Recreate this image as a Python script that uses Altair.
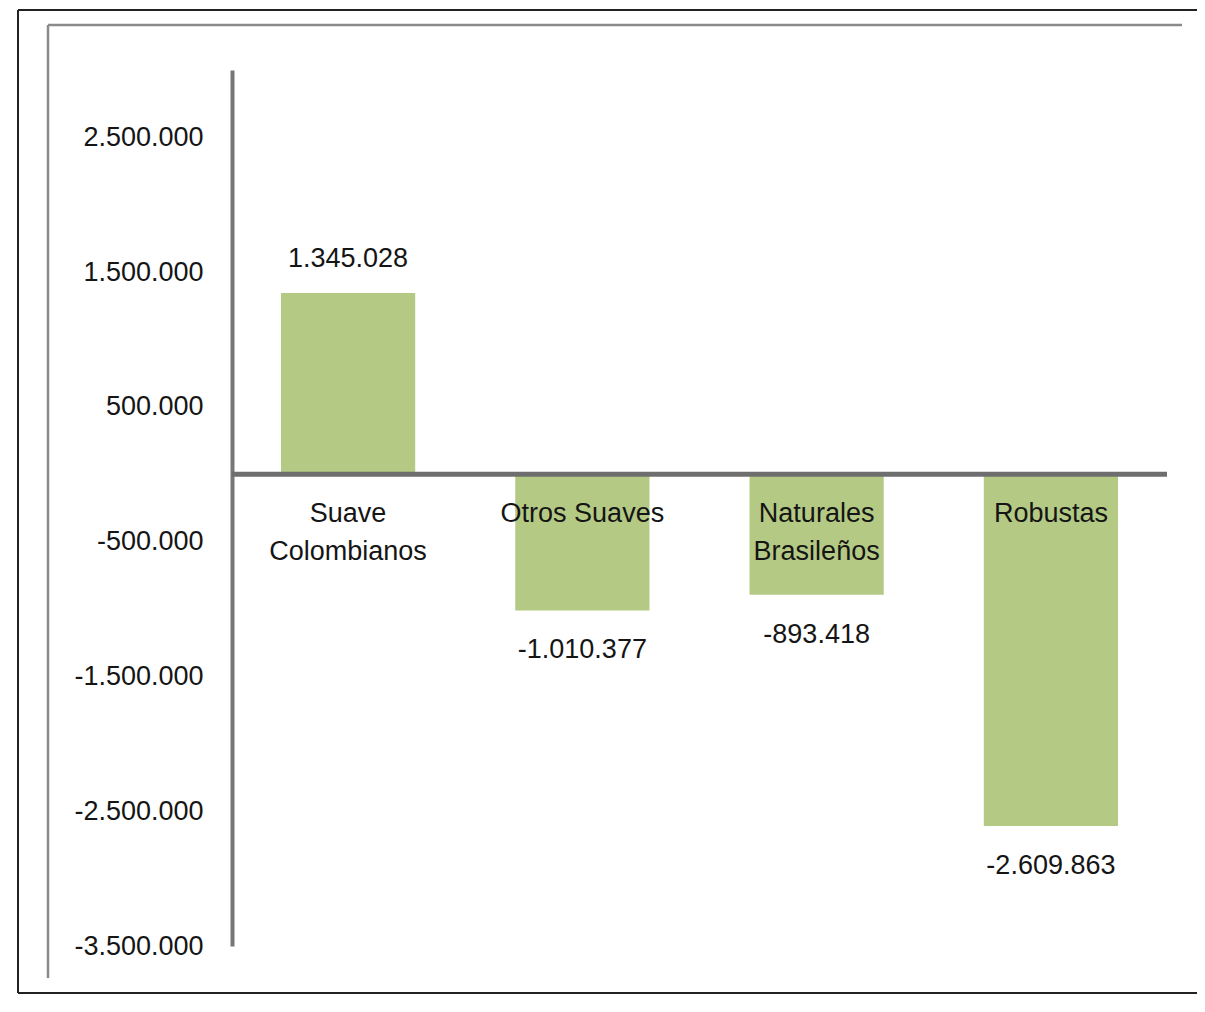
import altair as alt
import pandas as pd

categories = ["Suave Colombianos", "Otros Suaves", "Naturales Brasileños", "Robustas"]
category_lines = ["Suave\nColombianos", "Otros Suaves", "Naturales\nBrasileños", "Robustas"]
values = [1345028, -1010377, -893418, -2609863]
y_ticks = [2500000, 1500000, 500000, -500000, -1500000, -2500000, -3500000]

df = pd.DataFrame({"cat": categories, "label": category_lines, "value": values})
frame_df = pd.DataFrame({"k": [0]})

W, H = 935, 876
FONT = "Liberation Sans"
TXT = "#151515"
FS = 27

x = alt.X("cat:N", sort=categories, axis=None,
          scale=alt.Scale(paddingInner=0.427, paddingOuter=0.209))
yscale = alt.Scale(domain=[-3500000, 3000000], nice=False, zero=False)

base = alt.Chart(df)

bars = base.mark_bar(color="#b4ca84").encode(
    x=x,
    y=alt.Y("value:Q", scale=yscale, title=None,
            axis=alt.Axis(values=y_ticks, format=",.0f", ticks=False, grid=False,
                          labelFont=FONT, labelFontSize=FS, labelColor=TXT,
                          labelPadding=29, domainColor="#777777", domainWidth=4)),
    y2=alt.Y2(datum=0),
)

zero = alt.Chart(frame_df).mark_rule(color="#6e6e6e", strokeWidth=5).encode(
    y=alt.datum(0), x=alt.value(0), x2=alt.value(W)
)

cat_text = base.mark_text(baseline="top", dy=27, fontSize=FS, lineHeight=38,
                          lineBreak="\n", font=FONT, color=TXT).encode(
    x=x, y=alt.datum(0), text="label:N"
)

pos_text = base.transform_filter("datum.value > 0").mark_text(
    baseline="middle", dy=-34, fontSize=FS, font=FONT, color=TXT).encode(
    x=x, y="value:Q", text=alt.Text("value:Q", format=",.0f")
)
neg_text = base.transform_filter("datum.value < 0").mark_text(
    baseline="middle", dy=40, fontSize=FS, font=FONT, color=TXT).encode(
    x=x, y="value:Q", text=alt.Text("value:Q", format=",.0f")
)

fb = alt.Chart(frame_df)
outer_col = "#222222"
inner_col = "#8a8a8a"
frame_layers = [
    fb.mark_rule(color=outer_col, strokeWidth=2).encode(x=alt.value(-214), y=alt.value(-60), y2=alt.value(923)),
    fb.mark_rule(color=outer_col, strokeWidth=2).encode(x=alt.value(-214), x2=alt.value(990), y=alt.value(-60)),
    fb.mark_rule(color=outer_col, strokeWidth=2).encode(x=alt.value(-214), x2=alt.value(990), y=alt.value(923)),
    fb.mark_rule(color=inner_col, strokeWidth=2.5).encode(x=alt.value(-184), y=alt.value(-45), y2=alt.value(908)),
    fb.mark_rule(color=inner_col, strokeWidth=2.5).encode(x=alt.value(-184), x2=alt.value(950), y=alt.value(-45)),
]

chart = alt.layer(bars, zero, cat_text, pos_text, neg_text, *frame_layers).properties(
    width=W, height=H,
    autosize=alt.AutoSizeParams(type="none"),
    padding={"left": 224, "top": 62, "right": 30, "bottom": 50},
).configure(
    locale={"number": {"decimal": ",", "thousands": ".", "grouping": [3],
                       "currency": ["", ""], "minus": "-"}},
    view={"stroke": "transparent"},
)

chart.save("out.html", embed_options={"renderer": "svg", "actions": False})
